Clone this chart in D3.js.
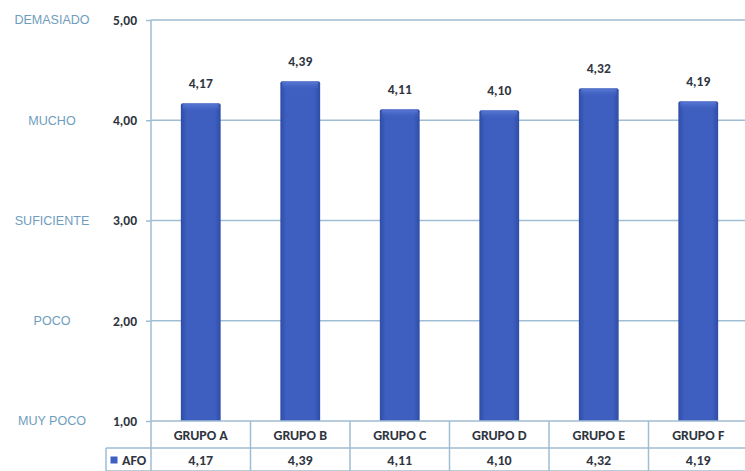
<!DOCTYPE html>
<html><head><meta charset="utf-8">
<script src="https://cdn.jsdelivr.net/npm/d3@7"></script>
<style>html,body{margin:0;padding:0;background:#fff;overflow:hidden}</style>
</head><body>
<svg id="c" width="745" height="471"></svg>
<script>
const categories = ["GRUPO A","GRUPO B","GRUPO C","GRUPO D","GRUPO E","GRUPO F"];
const seriesName = "AFO";
const values = [4.17, 4.39, 4.11, 4.10, 4.32, 4.19];
const yTicks = [1, 2, 3, 4, 5];
const levelLabels = ["MUY POCO", "POCO", "SUFICIENTE", "MUCHO", "DEMASIADO"];

(function(){
const fmt = v => d3.format(".2f")(v).replace(".", ",");
const svg = d3.select("#c");
const pLeft = 151, pRight = 748, pTop = 20, pBottom = 421;
const rowH1 = 27, rowH2 = 23, legendLeft = 106;
const lineCol = "#9fbdd3";
const font = "Carlito, Lato, 'Liberation Sans', sans-serif";
const txtCol = "#2f3540";

const x = d3.scaleBand().domain(categories).range([pLeft, pRight]).paddingInner(0.6).paddingOuter(0.3);
const xb = d3.scaleBand().domain(categories).range([pLeft, pRight]);
const y = d3.scaleLinear().domain([1, 5]).range([pBottom, pTop]);

const defs = svg.append("defs");
const g = defs.append("linearGradient").attr("id","bar").attr("x1","0").attr("x2","1");
g.append("stop").attr("offset","0").attr("stop-color","#2f4da6");
g.append("stop").attr("offset","0.15").attr("stop-color","#3e5fc0");
g.append("stop").attr("offset","0.85").attr("stop-color","#3e5fc0");
g.append("stop").attr("offset","1").attr("stop-color","#2f4da6");
const gv = defs.append("linearGradient").attr("id","barTop").attr("x1","0").attr("x2","0").attr("y1","0").attr("y2","1");
gv.append("stop").attr("offset","0").attr("stop-color","#5b7bd6").attr("stop-opacity",0.9);
gv.append("stop").attr("offset","1").attr("stop-color","#3e5fc0").attr("stop-opacity",0);

const yAxis = d3.axisLeft(y).tickValues(yTicks).tickFormat(fmt).tickSize(5).tickPadding(9);
const ya = svg.append("g").attr("transform",`translate(${pLeft},0)`).call(yAxis);
ya.select(".domain").remove();
ya.selectAll(".tick line").attr("stroke", lineCol).attr("stroke-width",1.5);
ya.selectAll(".tick text").attr("fill",txtCol).attr("font-family",font).attr("font-size",13.5).attr("font-weight","bold");

svg.append("g").selectAll("line").data(yTicks.filter(t=>t>1)).join("line")
  .attr("x1", pLeft).attr("x2", 745).attr("y1", d=>y(d)).attr("y2", d=>y(d))
  .attr("stroke", lineCol).attr("stroke-width",1.5);

svg.append("g").selectAll("text").data(yTicks).join("text")
  .attr("x", 52).attr("y", d=>y(d)+4.5).attr("text-anchor","middle")
  .attr("fill","#6f9dbd").attr("font-family","'Liberation Sans', Arial, sans-serif")
  .attr("font-size",13.5).attr("transform", d=>`translate(52,0) scale(0.93,1) translate(-52,0)`)
  .text((d,i)=>levelLabels[i]);

const bars = svg.append("g");
bars.selectAll("path.b").data(values).join("path").attr("class","b")
  .attr("d",(d,i)=>{const x0=x(categories[i]), w=x.bandwidth(), y0=y(d), r=2;
    return `M${x0},${pBottom}V${y0+r}Q${x0},${y0} ${x0+r},${y0}H${x0+w-r}Q${x0+w},${y0} ${x0+w},${y0+r}V${pBottom}Z`;})
  .attr("fill","url(#bar)");
bars.selectAll("rect.h").data(values).join("rect").attr("class","h")
  .attr("x",(d,i)=>x(categories[i])+2).attr("width",x.bandwidth()-4)
  .attr("y",d=>y(d)+1).attr("height",8).attr("fill","url(#barTop)");

svg.append("g").selectAll("text").data(values).join("text")
  .attr("x",(d,i)=>x(categories[i])+x.bandwidth()/2).attr("y",d=>y(d)-15)
  .attr("text-anchor","middle").attr("fill",txtCol).attr("font-family",font)
  .attr("font-size",13.5).attr("font-weight","bold").text(fmt);

const t = svg.append("g").attr("stroke",lineCol).attr("stroke-width",1.5);
t.append("line").attr("x1",pLeft).attr("x2",745).attr("y1",pBottom).attr("y2",pBottom);
t.append("line").attr("x1",legendLeft).attr("x2",745).attr("y1",pBottom+rowH1).attr("y2",pBottom+rowH1);
t.append("line").attr("x1",legendLeft).attr("x2",745).attr("y1",pBottom+rowH1+rowH2).attr("y2",pBottom+rowH1+rowH2);
t.append("line").attr("x1",pLeft).attr("x2",pLeft).attr("y1",pTop).attr("y2",471);
t.append("line").attr("x1",legendLeft).attr("x2",legendLeft).attr("y1",pBottom+rowH1).attr("y2",471);
t.selectAll("line.d").data(categories.slice(1)).join("line").attr("class","d")
  .attr("x1",d=>xb(d)).attr("x2",d=>xb(d)).attr("y1",pBottom).attr("y2",471);

svg.append("g").selectAll("text").data(categories).join("text")
  .attr("x",d=>xb(d)+xb.bandwidth()/2).attr("y",pBottom+rowH1/2+5).attr("text-anchor","middle")
  .attr("fill",txtCol).attr("font-family",font).attr("font-size",14).attr("font-weight","bold").text(d=>d);
svg.append("g").selectAll("text").data(values).join("text")
  .attr("x",(d,i)=>xb(categories[i])+xb.bandwidth()/2).attr("y",pBottom+rowH1+rowH2/2+5).attr("text-anchor","middle")
  .attr("fill",txtCol).attr("font-family",font).attr("font-size",14).attr("font-weight","bold").text(fmt);

svg.append("rect").attr("x",110.5).attr("y",pBottom+rowH1+8.5).attr("width",7).attr("height",7).attr("fill","#3e5fc0");
svg.append("text").attr("x",122).attr("y",pBottom+rowH1+rowH2/2+5).attr("fill",txtCol)
  .attr("font-family",font).attr("font-size",14).attr("font-weight","bold").text(seriesName);
})();
</script>
</body></html>
